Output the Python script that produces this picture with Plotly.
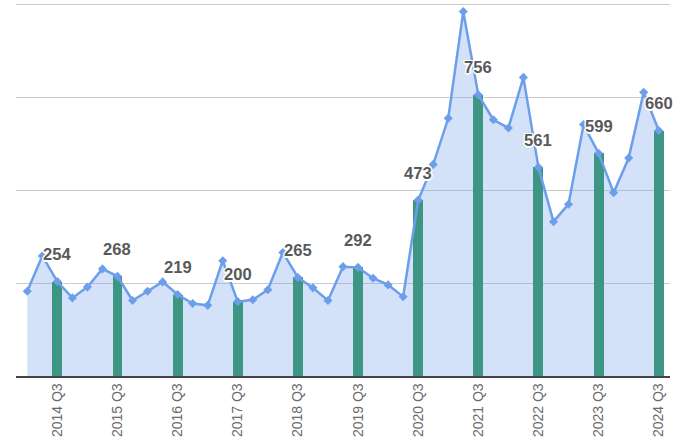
import plotly.graph_objects as go

quarters = [f"{y} Q{q}" for y in range(2014, 2025) for q in range(1, 5)][:43]

values = [228, 323, 254, 210, 239, 288, 268, 203, 228, 253, 219, 195,
          190, 310, 200, 205, 232, 332, 265, 237, 203, 294, 292, 263,
          245, 213, 473, 569, 693, 980, 756, 689, 667, 803, 561, 415,
          462, 676, 599, 493, 586, 763, 660]

q3_labels = [f"{y} Q3" for y in range(2014, 2025)]
q3_values = [254, 268, 219, 200, 265, 292, 473, 756, 561, 599, 660]

LINE = "#6d9eeb"
FILL = "rgba(109,158,235,0.3)"
BAR = "#3d9683"
LABEL = "#595959"
YRANGE = [0, 1003]

fig = go.Figure()

# translucent area (bottom layer)
fig.add_trace(go.Scatter(
    x=quarters, y=values, mode="none",
    fill="tozeroy", fillcolor=FILL, showlegend=False, hoverinfo="skip",
    yaxis="y",
))

# Q3 bars (middle layer)
fig.add_trace(go.Bar(
    x=q3_labels, y=q3_values, marker=dict(color=BAR, line=dict(width=0)),
    width=0.66, hoverinfo="skip", showlegend=False, yaxis="y2",
))

# line with diamond markers (top layer)
fig.add_trace(go.Scatter(
    x=quarters, y=values, mode="lines+markers",
    line=dict(color=LINE, width=2.5),
    marker=dict(symbol="diamond", size=7, color=LINE),
    showlegend=False, yaxis="y3",
))

shadow = ("-1px -1px 0 #fff, 1px -1px 0 #fff, -1px 1px 0 #fff, 1px 1px 0 #fff, "
          "0 -1.5px 0 #fff, 0 1.5px 0 #fff, -1.5px 0 0 #fff, 1.5px 0 0 #fff")
for lab, v in zip(q3_labels, q3_values):
    fig.add_annotation(
        x=lab, y=v, xref="x", yref="y", text=str(v), showarrow=False,
        yanchor="middle", yshift=27,
        font=dict(family="Liberation Sans, Arial, sans-serif", size=16.6,
                  color=LABEL, weight="bold", shadow=shadow),
    )

hidden_y = dict(range=YRANGE, overlaying="y", visible=False, showgrid=False,
                zeroline=False, fixedrange=True)

fig.update_layout(
    width=683, height=444,
    margin=dict(l=16, r=13, t=3, b=68),
    paper_bgcolor="white", plot_bgcolor="white",
    bargap=0,
    xaxis=dict(
        type="category", categoryorder="array", categoryarray=quarters,
        range=[-0.75, 42.75],
        tickmode="array", tickvals=q3_labels, ticktext=q3_labels,
        tickangle=-90, showgrid=False, showline=True, linecolor="#444",
        linewidth=1.5, ticks="", zeroline=False,
        tickfont=dict(family="Liberation Sans, Arial, sans-serif", size=14, color="#6b6b6b"),
    ),
    yaxis=dict(
        range=YRANGE, tickvals=[0, 250, 500, 750, 1000], showticklabels=False,
        showgrid=True, gridcolor="#cccccc", gridwidth=1, zeroline=False,
        showline=False, fixedrange=True,
    ),
    yaxis2=hidden_y,
    yaxis3=hidden_y,
)

fig.write_html("out.html", config={"displayModeBar": False},
               post_script="document.body.style.margin='0';")
